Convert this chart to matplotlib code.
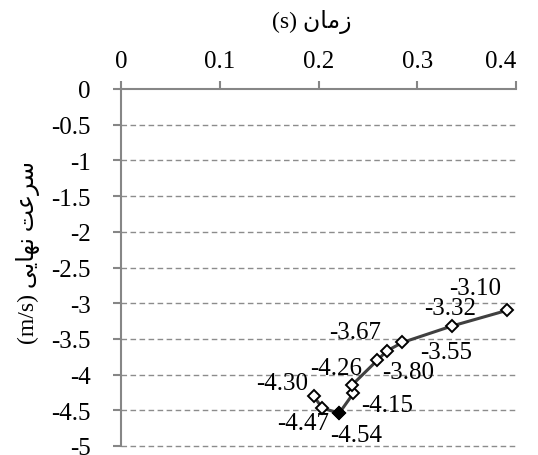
import matplotlib
matplotlib.use("Agg")
import matplotlib.pyplot as plt

plt.rcParams["font.family"] = ["Liberation Serif", "DejaVu Sans"]

# data
time_s = [0.195, 0.204, 0.221, 0.2354, 0.2337, 0.2595, 0.269, 0.285, 0.335, 0.391]
velocity = [-4.30, -4.47, -4.54, -4.26, -4.15, -3.80, -3.67, -3.55, -3.32, -3.10]
min_index = 2
# label offsets (pixels) from each marker
label_dx = [-31, -19, 17, -17, 35, 31, -32, 44, -2, -32]
label_dy = [13, -15, -22, 25, -20, -12, 19, -10, 18, 22]

x_ticks = [0, 0.1, 0.2, 0.3, 0.4]
y_ticks = [0, -0.5, -1, -1.5, -2, -2.5, -3, -3.5, -4, -4.5, -5]

# contextual forms: isolated, final, initial, medial (None = does not join left)
FORMS = {
    "ز": ("\uFEAF", "\uFEB0", None, None),
    "ر": ("\uFEAD", "\uFEAE", None, None),
    "ا": ("\uFE8D", "\uFE8E", None, None),
    "م": ("\uFEE1", "\uFEE2", "\uFEE3", "\uFEE4"),
    "ن": ("\uFEE5", "\uFEE6", "\uFEE7", "\uFEE8"),
    "س": ("\uFEB1", "\uFEB2", "\uFEB3", "\uFEB4"),
    "ع": ("\uFEC9", "\uFECA", "\uFECB", "\uFECC"),
    "ت": ("\uFE95", "\uFE96", "\uFE97", "\uFE98"),
    "ه": ("\uFEE9", "\uFEEA", "\uFEEB", "\uFEEC"),
    "ی": ("\uFEEF", "\uFEF0", "\uFEF3", "\uFEF4"),
}


def shape_rtl(text: str) -> str:
    """Very small Persian shaper: pick joined forms, then reverse for LTR drawing."""
    out = []
    for i, ch in enumerate(text):
        if ch not in FORMS:
            out.append(ch)
            continue
        prev = text[i - 1] if i > 0 else ""
        nxt = text[i + 1] if i + 1 < len(text) else ""
        join_prev = prev in FORMS and FORMS[prev][2] is not None
        join_next = FORMS[ch][2] is not None and nxt in FORMS
        iso, fin, ini, med = FORMS[ch]
        if join_prev and join_next:
            out.append(med)
        elif join_prev:
            out.append(fin)
        elif join_next:
            out.append(ini)
        else:
            out.append(iso)
    return "".join(reversed(out))


fig = plt.figure(figsize=(5.38, 4.56), dpi=100)
ax = fig.add_axes([121 / 538, 1 - 447 / 456, 395 / 538, 357 / 456])

axis_grey = "#868686"
ax.set_xlim(0, 0.4)
ax.set_ylim(-5, 0)
ax.set_xticks(x_ticks)
ax.set_xticklabels([f"{t:g}" for t in x_ticks])
ax.set_yticks(y_ticks)
ax.set_yticklabels([f"{t:g}" for t in y_ticks])
ax.xaxis.tick_top()
ax.xaxis.set_label_position("top")
# last top label sits inside the plot edge, like the original
ax.xaxis.get_major_ticks()[-1].label2.set_horizontalalignment("right")
for side in ("right", "bottom"):
    ax.spines[side].set_visible(False)
for side in ("top", "left"):
    ax.spines[side].set_color(axis_grey)
    ax.spines[side].set_linewidth(1.5)
ax.tick_params(axis="x", direction="out", length=6, width=1.5, color=axis_grey,
               labelsize=18, pad=6)
ax.tick_params(axis="y", direction="out", length=6, width=1.5, color=axis_grey,
               labelsize=18, pad=16)
for y in y_ticks[1:]:
    ax.axhline(y, color="#8c8c8c", linewidth=1.0, linestyle=(0, (4, 2.5)), zorder=1, clip_on=False)

ax.plot(time_s, velocity, color="#404040", linewidth=2.2, marker="D", markersize=6,
        markerfacecolor="white", markeredgecolor="black", markeredgewidth=1.4, zorder=3)
ax.plot([time_s[min_index]], [velocity[min_index]], linestyle="none", marker="D", markersize=6,
        markerfacecolor="black", markeredgecolor="black", markeredgewidth=1.4, zorder=4)

for x, y, dx, dy in zip(time_s, velocity, label_dx, label_dy):
    ax.annotate(f"{y:.2f}", (x, y), xytext=(dx, dy), textcoords="offset pixels",
                ha="center", va="center", fontsize=18, zorder=5)

ax.set_xlabel("(s) " + shape_rtl("زمان"), fontsize=17)
ax.xaxis.set_label_coords(0.484, 1.175)
ax.set_ylabel("(m/s) " + shape_rtl("سرعت نهایی"), fontsize=17)
ax.yaxis.set_label_coords(-0.205, 0.545)

fig.savefig("out.png", dpi=100)
